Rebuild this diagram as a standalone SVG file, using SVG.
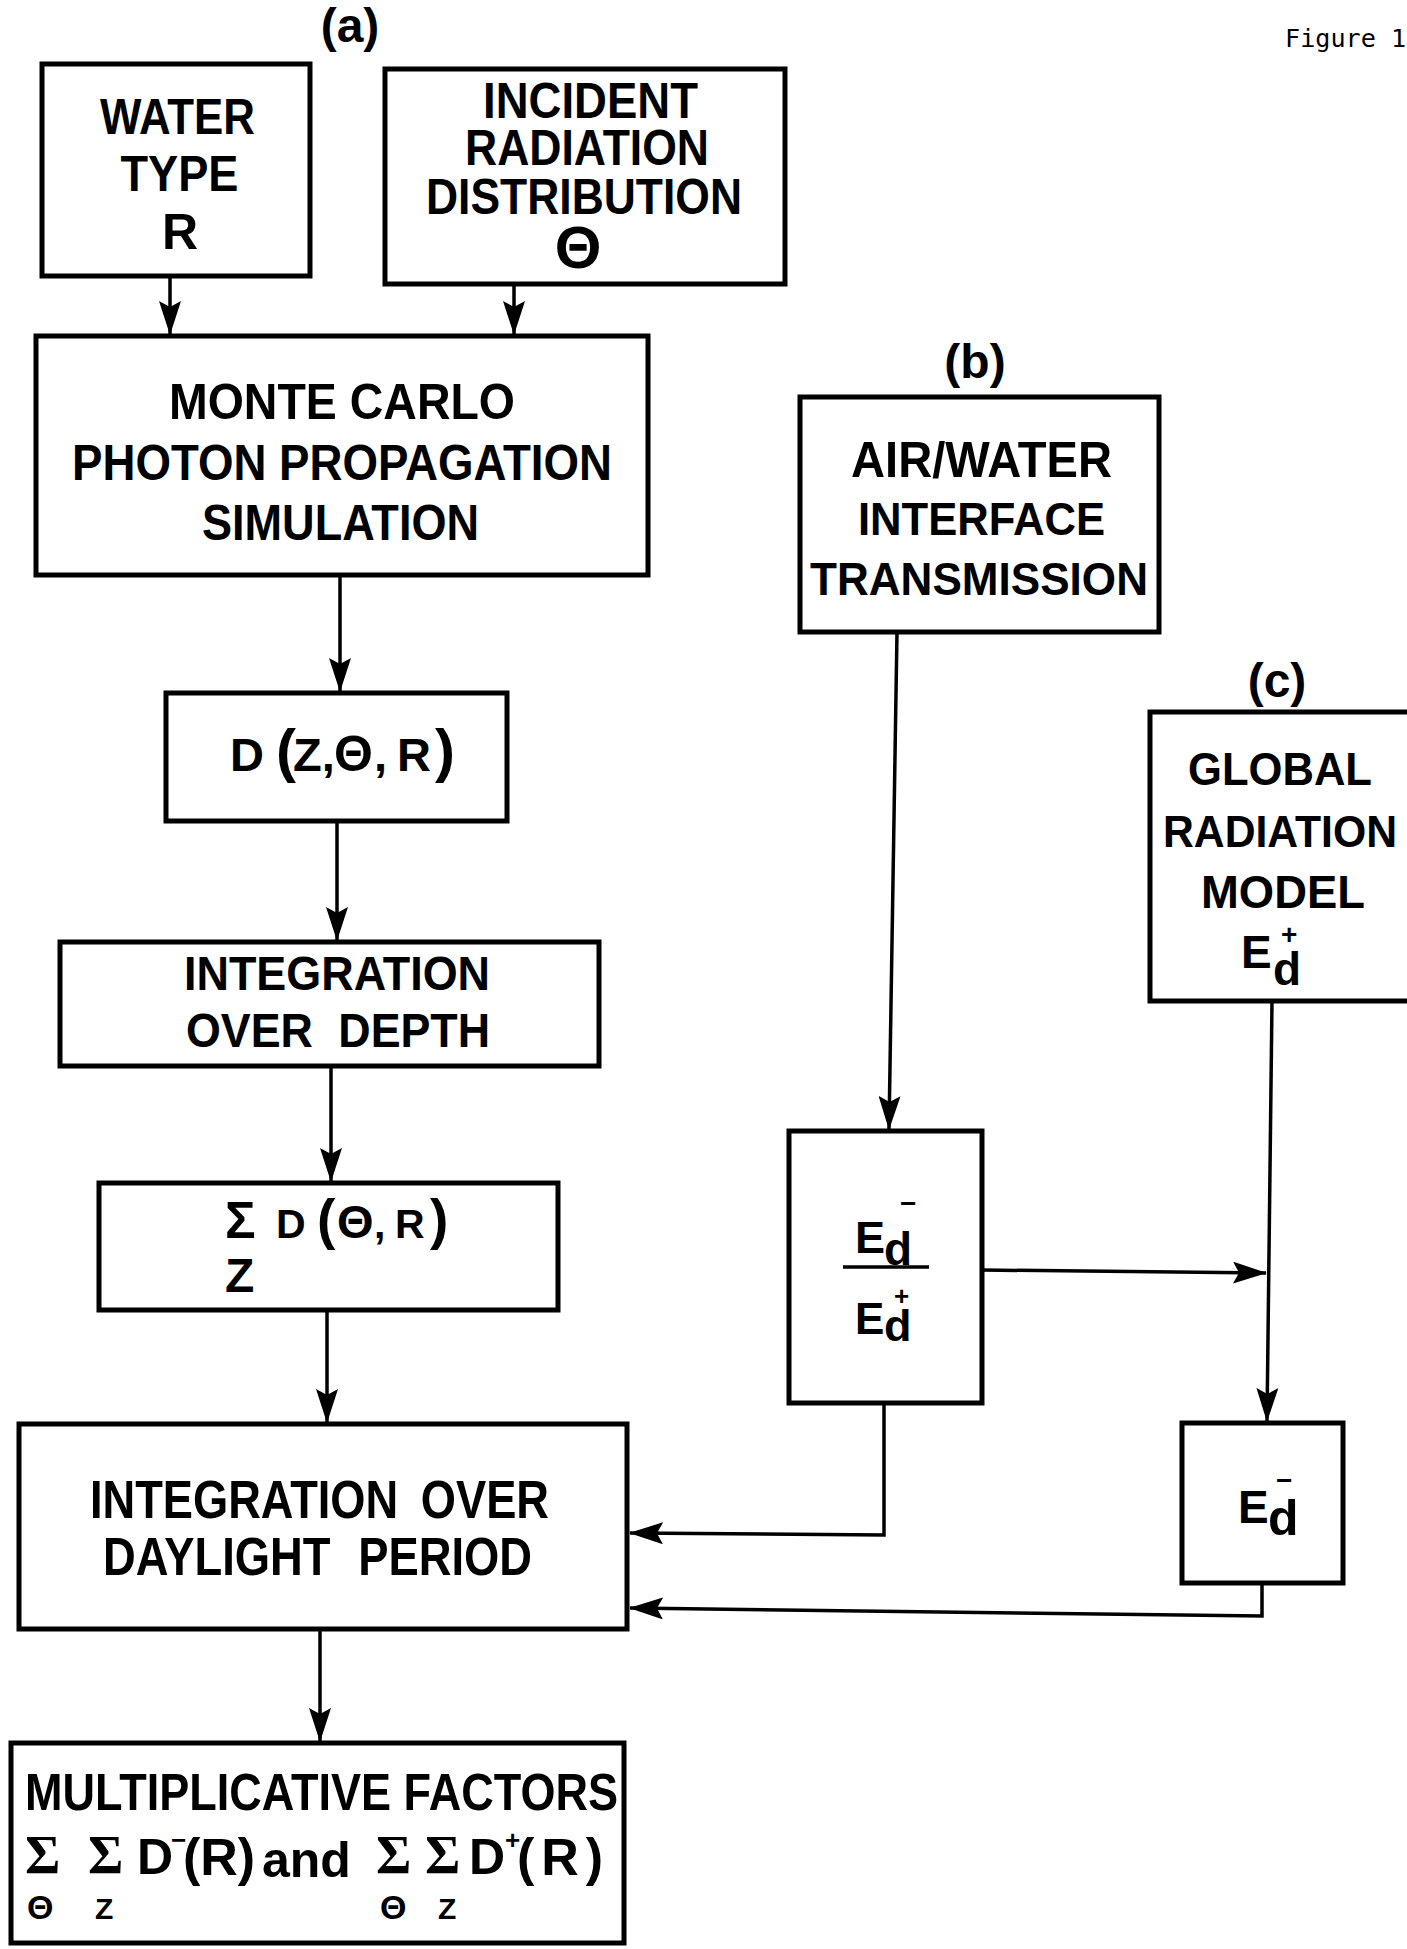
<svg xmlns="http://www.w3.org/2000/svg" width="1407" height="1949" viewBox="0 0 1407 1949">
<style>
.box{fill:none;stroke:#000;stroke-width:5}
.ln{fill:none;stroke:#000;stroke-width:3.5}
.t{font-family:"Liberation Sans",Arial,sans-serif;font-weight:bold;fill:#000}
.c{text-anchor:middle}
.s{font-family:"Liberation Serif","Times New Roman",serif;font-weight:bold}
.m{font-family:"DejaVu Sans Mono","Liberation Mono",monospace;fill:#000}
</style>
<defs>
<marker id="ah" viewBox="0 0 34 22" markerWidth="34" markerHeight="22" markerUnits="userSpaceOnUse" refX="33" refY="11" orient="auto">
<path d="M0,0 L34,11 L0,22 L6,11 Z" fill="#000"/>
</marker>
</defs>
<rect width="1407" height="1949" fill="#fff"/>

<g id="labels">
<text class="t c" x="350" y="42" font-size="48">(a)</text>
<text class="t c" x="975" y="378" font-size="48">(b)</text>
<text class="t c" x="1277" y="697" font-size="48">(c)</text>
<text class="m" x="1285" y="47" font-size="24" textLength="121" lengthAdjust="spacingAndGlyphs">Figure 1</text>
</g>

<g id="connectors">
<path class="ln" d="M170,276 L170,334" marker-end="url(#ah)"/>
<path class="ln" d="M514,284 L514,334" marker-end="url(#ah)"/>
<path class="ln" d="M340,575 L340,691" marker-end="url(#ah)"/>
<path class="ln" d="M337,821 L337,940" marker-end="url(#ah)"/>
<path class="ln" d="M331,1066 L331,1181" marker-end="url(#ah)"/>
<path class="ln" d="M327,1310 L327,1422" marker-end="url(#ah)"/>
<path class="ln" d="M320,1629 L320,1741" marker-end="url(#ah)"/>
<path class="ln" d="M897,632 L889,1129" marker-end="url(#ah)"/>
<path class="ln" d="M1272,1001 L1267,1421" marker-end="url(#ah)"/>
<path class="ln" d="M982,1270 L1266,1273" marker-end="url(#ah)"/>
<path class="ln" d="M884,1403 L884,1535 L630,1533" marker-end="url(#ah)"/>
<path class="ln" d="M1262,1583 L1262,1616 L630,1608" marker-end="url(#ah)"/>
</g>

<g id="water-type">
<rect class="box" x="42" y="64" width="268" height="212"/>
<text class="t c" x="177.5" y="134" font-size="50" textLength="155" lengthAdjust="spacingAndGlyphs">WATER</text>
<text class="t c" x="179.5" y="191" font-size="50" textLength="118" lengthAdjust="spacingAndGlyphs">TYPE</text>
<text class="t c" x="180" y="249" font-size="50">R</text>
</g>

<g id="incident-radiation">
<rect class="box" x="385" y="69" width="400" height="215"/>
<text class="t c" x="590.5" y="118" font-size="50" textLength="215" lengthAdjust="spacingAndGlyphs">INCIDENT</text>
<text class="t c" x="587" y="165" font-size="50" textLength="244" lengthAdjust="spacingAndGlyphs">RADIATION</text>
<text class="t c" x="584" y="214" font-size="50" textLength="316" lengthAdjust="spacingAndGlyphs">DISTRIBUTION</text>
<text class="t c" x="578" y="268" font-size="60">Θ</text>
</g>

<g id="monte-carlo">
<rect class="box" x="36" y="336" width="612" height="239"/>
<text class="t c" x="342" y="419" font-size="50" textLength="346" lengthAdjust="spacingAndGlyphs">MONTE CARLO</text>
<text class="t c" x="342" y="480" font-size="50" textLength="540" lengthAdjust="spacingAndGlyphs">PHOTON PROPAGATION</text>
<text class="t c" x="340.5" y="540" font-size="50" textLength="277" lengthAdjust="spacingAndGlyphs">SIMULATION</text>
</g>

<g id="air-water">
<rect class="box" x="800" y="397" width="359" height="235"/>
<text class="t c" x="981.5" y="477" font-size="50" textLength="261" lengthAdjust="spacingAndGlyphs">AIR/WATER</text>
<text class="t c" x="981.5" y="535" font-size="47" textLength="247" lengthAdjust="spacingAndGlyphs">INTERFACE</text>
<text class="t c" x="979" y="595" font-size="47" textLength="338" lengthAdjust="spacingAndGlyphs">TRANSMISSION</text>
</g>

<g id="d-z-theta-r">
<rect class="box" x="166" y="693" width="341" height="128"/>
<text class="t" y="771" font-size="47"><tspan x="230">D</tspan><tspan x="276" font-size="60">(</tspan><tspan x="293">Z,</tspan><tspan x="334" font-size="50">Θ</tspan><tspan x="374">,</tspan><tspan x="397">R</tspan><tspan x="435" font-size="60">)</tspan></text>
</g>

<g id="global-radiation">
<rect class="box" x="1150" y="712" width="270" height="289"/>
<text class="t c" x="1280" y="785" font-size="47" textLength="184" lengthAdjust="spacingAndGlyphs">GLOBAL</text>
<text class="t c" x="1280" y="847" font-size="44" textLength="234" lengthAdjust="spacingAndGlyphs">RADIATION</text>
<text class="t c" x="1283" y="908" font-size="47" textLength="164" lengthAdjust="spacingAndGlyphs">MODEL</text>
<text class="t" font-size="46"><tspan x="1241" y="968">E</tspan><tspan x="1273" y="985" font-size="46">d</tspan><tspan x="1281" y="944" font-size="28">+</tspan></text>
</g>

<g id="integration-depth">
<rect class="box" x="60" y="942" width="539" height="124"/>
<text class="t c" x="337" y="990" font-size="48" textLength="306" lengthAdjust="spacingAndGlyphs">INTEGRATION</text>
<text class="t c" x="338" y="1047" font-size="48" word-spacing="14" textLength="304" lengthAdjust="spacingAndGlyphs">OVER DEPTH</text>
</g>

<g id="sum-d-theta-r">
<rect class="box" x="99" y="1183" width="459" height="127"/>
<text class="t" y="1238" font-size="41"><tspan x="225" font-size="51">Σ</tspan><tspan x="276">D</tspan><tspan x="317" font-size="55">(</tspan><tspan x="337" font-size="47">Θ</tspan><tspan x="374">,</tspan><tspan x="395">R</tspan><tspan x="430" font-size="55">)</tspan></text>
<text class="t" x="225" y="1292" font-size="48">Z</text>
</g>

<g id="ratio-ed">
<rect class="box" x="789" y="1131" width="193" height="272"/>
<text class="t" font-size="45"><tspan x="855" y="1253">E</tspan><tspan x="884" y="1265" font-size="46">d</tspan><tspan x="900" y="1213" font-size="28">−</tspan></text>
<line class="ln" x1="843" y1="1267" x2="929" y2="1267"/>
<text class="t" font-size="44"><tspan x="855" y="1334">E</tspan><tspan x="884" y="1341" font-size="45">d</tspan><tspan x="894" y="1305" font-size="26">+</tspan></text>
</g>

<g id="daylight">
<rect class="box" x="19" y="1424" width="608" height="205"/>
<text class="t c" x="319.5" y="1518" font-size="54" word-spacing="12" textLength="459" lengthAdjust="spacingAndGlyphs">INTEGRATION OVER</text>
<text class="t c" x="317.5" y="1575" font-size="54" word-spacing="18" textLength="429" lengthAdjust="spacingAndGlyphs">DAYLIGHT PERIOD</text>
</g>

<g id="ed-minus">
<rect class="box" x="1182" y="1423" width="161" height="160"/>
<text class="t" font-size="46"><tspan x="1238" y="1523">E</tspan><tspan x="1268" y="1535" font-size="50">d</tspan><tspan x="1276" y="1490" font-size="28">−</tspan></text>
</g>

<g id="multiplicative">
<rect class="box" x="11" y="1743" width="613" height="200"/>
<text class="t c" x="321.5" y="1810" font-size="52" textLength="593" lengthAdjust="spacingAndGlyphs">MULTIPLICATIVE FACTORS</text>
<text class="t" font-size="50"><tspan class="s" x="25" y="1873" font-size="54">Σ</tspan><tspan class="s" x="88" y="1873" font-size="54">Σ</tspan><tspan x="137" y="1874">D</tspan><tspan x="171" y="1849" font-size="26">−</tspan><tspan x="183" y="1875" font-size="52">(R)</tspan><tspan x="262" y="1877">and</tspan><tspan class="s" x="376" y="1873" font-size="54">Σ</tspan><tspan class="s" x="425" y="1873" font-size="54">Σ</tspan><tspan x="469" y="1874">D</tspan><tspan x="505" y="1849" font-size="26">+</tspan><tspan x="517" y="1875" font-size="52" letter-spacing="7">(R)</tspan></text>
<text class="t" y="1919" font-size="30"><tspan x="27" font-size="34">Θ</tspan><tspan x="95">Z</tspan><tspan x="380" font-size="34">Θ</tspan><tspan x="438">Z</tspan></text>
</g>
</svg>
